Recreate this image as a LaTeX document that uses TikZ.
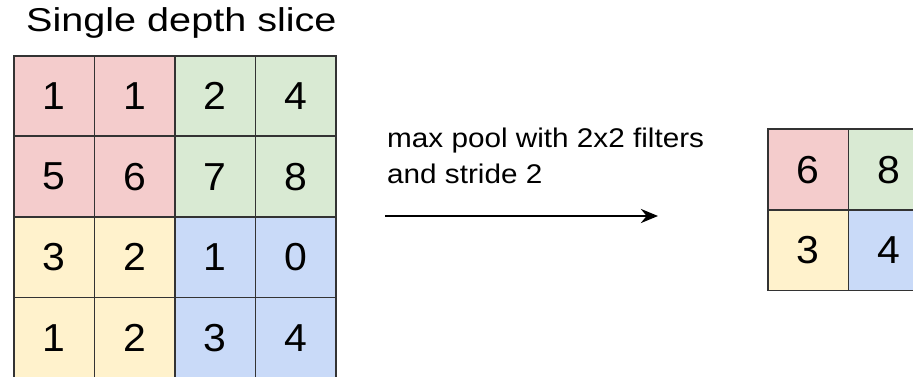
\documentclass[tikz,border=0pt]{standalone}
\usepackage{fontspec}
\usepackage{graphicx}
\setmainfont{Liberation Sans}
\usetikzlibrary{arrows.meta}
\definecolor{cred}{HTML}{F4CCCC}
\definecolor{cgreen}{HTML}{D9EAD3}
\definecolor{cyellow}{HTML}{FFF2CC}
\definecolor{cblue}{HTML}{C9DAF8}
\definecolor{cborder}{HTML}{333333}
\newcommand{\sxx}[1]{\scalebox{1.2}[1]{#1}}
\newcommand{\sxt}[1]{\scalebox{1.1}[1]{#1}}
\newcommand{\sxd}[1]{\scalebox{1.05}[1]{#1}}
\begin{document}
\begin{tikzpicture}[x=1pt,y=-1pt,
  cell/.style={draw=cborder, line width=1.8pt, minimum width=80.5pt, minimum height=80.5pt,
    inner sep=0pt, anchor=north west, font=\fontsize{39}{39}\selectfont},
  label/.style={anchor=base west, inner sep=0pt, font=\fontsize{27}{30}\selectfont},
  arr/.style={-{Stealth[length=17pt,width=14pt]}, line width=2.8pt}]
\useasboundingbox (0,0) rectangle (913,377);
\clip (0,0) rectangle (913,377);
\fill[white] (0,0) rectangle (913,377);
\node[anchor=base west, inner sep=0pt, font=\fontsize{33}{36}\selectfont] (title) at (26,32) {\sxx{Single depth slice}};
% left grid
\node[cell, fill=cred] (a11) at (13,55) {\sxd{1}};
\node[cell, fill=cred] (a12) at (93.5,55) {\sxd{1}};
\node[cell, fill=cgreen] (a13) at (174,55) {\sxd{2}};
\node[cell, fill=cgreen] (a14) at (254.5,55) {\sxd{4}};
\node[cell, fill=cred] (a21) at (13,135.5) {\sxd{5}};
\node[cell, fill=cred] (a22) at (93.5,135.5) {\sxd{6}};
\node[cell, fill=cgreen] (a23) at (174,135.5) {\sxd{7}};
\node[cell, fill=cgreen] (a24) at (254.5,135.5) {\sxd{8}};
\node[cell, fill=cyellow] (a31) at (13,216) {\sxd{3}};
\node[cell, fill=cyellow] (a32) at (93.5,216) {\sxd{2}};
\node[cell, fill=cblue] (a33) at (174,216) {\sxd{1}};
\node[cell, fill=cblue] (a34) at (254.5,216) {\sxd{0}};
\node[cell, fill=cyellow] (a41) at (13,296.5) {\sxd{1}};
\node[cell, fill=cyellow] (a42) at (93.5,296.5) {\sxd{2}};
\node[cell, fill=cblue] (a43) at (174,296.5) {\sxd{3}};
\node[cell, fill=cblue] (a44) at (254.5,296.5) {\sxd{4}};
% text and arrow
\node[label] (l1) at (387,147) {\sxt{max pool with 2x2 filters}};
\node[label] (l2) at (387,183) {\sxt{and stride 2}};
\coordinate (s) at (385,216);
\coordinate (e) at (658,216);
\draw[arr] (s) -- (e);
% right grid
\node[cell, fill=cred] (b11) at (767,128.5) {\sxd{6}};
\node[cell, fill=cgreen] (b12) at (847.5,128.5) {\sxd{8}};
\node[cell, fill=cyellow] (b21) at (767,209) {\sxd{3}};
\node[cell, fill=cblue] (b22) at (847.5,209) {\sxd{4}};
\end{tikzpicture}
\end{document}
